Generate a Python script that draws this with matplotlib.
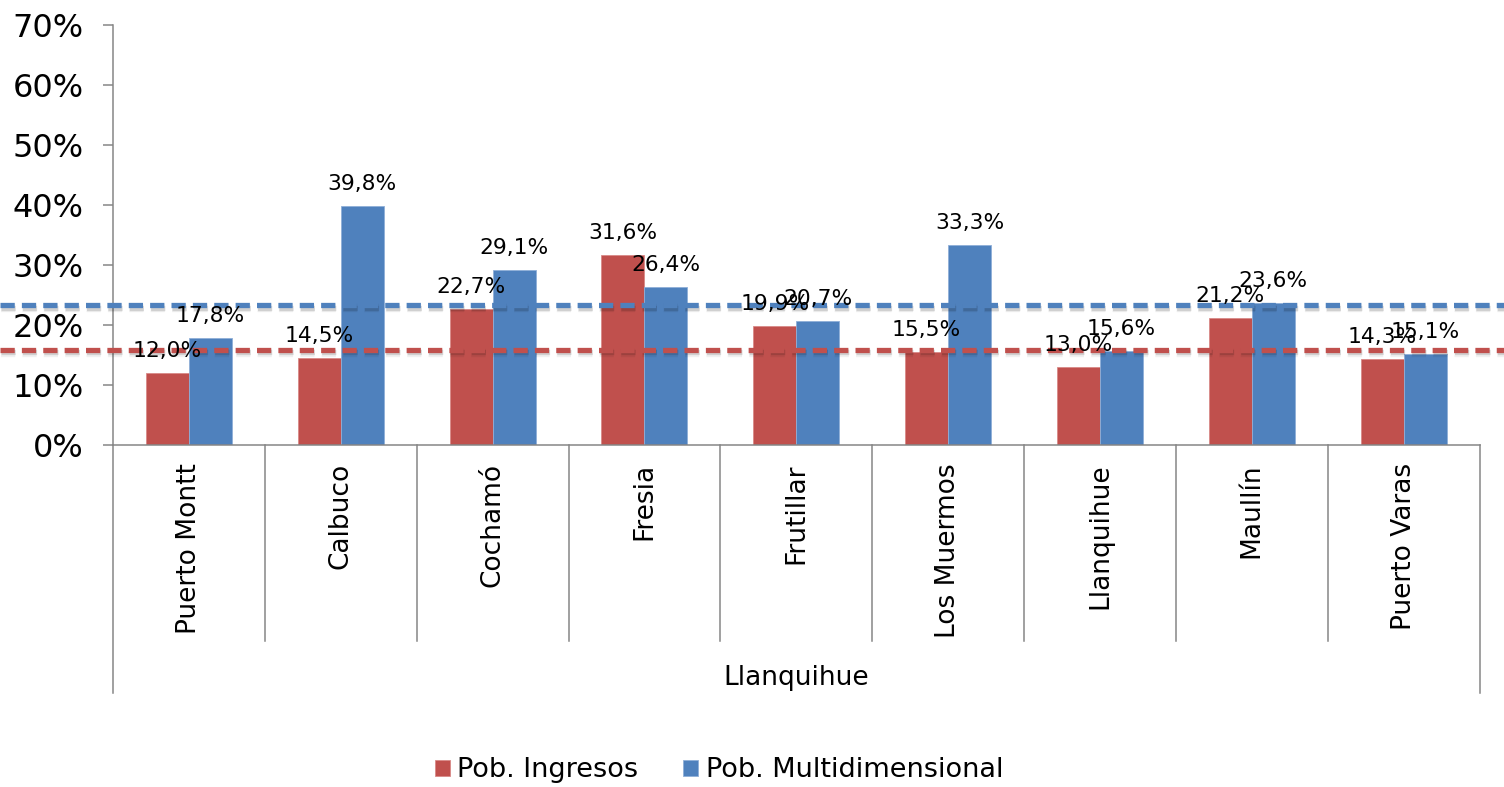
import matplotlib
matplotlib.use("Agg")
import matplotlib.pyplot as plt
import matplotlib.patheffects as pe
import matplotlib.transforms as mtransforms
import numpy as np

comunas = ['Puerto Montt', 'Calbuco', 'Cochamó', 'Fresia', 'Frutillar',
           'Los Muermos', 'Llanquihue', 'Maullín', 'Puerto Varas']
pob_ingresos = [12.0, 14.5, 22.7, 31.6, 19.9, 15.5, 13.0, 21.2, 14.3]
pob_multidim = [17.8, 39.8, 29.1, 26.4, 20.7, 33.3, 15.6, 23.6, 15.1]
provincia = 'Llanquihue'
# regional reference levels (dashed lines)
ref_ingresos = 15.9
ref_multidim = 23.3

RED = '#C0504D'
BLUE = '#4F81BD'
GRAY = '#868686'

plt.rcParams['font.family'] = ['DejaVu Sans']

fig = plt.figure(figsize=(15.04, 7.87), dpi=100)
ax = fig.add_axes([0.0751, 0.4346, 0.9087, 0.5336])

x = np.arange(len(comunas))
w = 0.283
b1 = ax.bar(x - w / 2, pob_ingresos, w, color=RED, edgecolor='#D98A88',
            linewidth=0.6, label='Pob. Ingresos', zorder=2)
b2 = ax.bar(x + w / 2, pob_multidim, w, color=BLUE, edgecolor='#8FAFD8',
            linewidth=0.6, label='Pob. Multidimensional', zorder=2)

# value labels
for bars, vals in ((b1, pob_ingresos), (b2, pob_multidim)):
    for r, v in zip(bars, vals):
        ax.annotate(f'{v:.1f}%'.replace('.', ','),
                    (r.get_x() + r.get_width() / 2, v),
                    xytext=(0, 11.5), textcoords='offset points',
                    ha='center', va='baseline', fontsize=15.7, color='black',
                    zorder=5)

# reference lines spanning the full figure width, with a soft shadow
tr = mtransforms.blended_transform_factory(fig.transFigure, ax.transData)
shadow = [pe.SimpleLineShadow(offset=(0.5, -2.2), shadow_color='black',
                              alpha=0.06, linewidth=6),
          pe.SimpleLineShadow(offset=(0.5, -2.0), shadow_color='black',
                              alpha=0.13, linewidth=3.8),
          pe.Normal()]
for y, c in ((ref_multidim, BLUE), (ref_ingresos, RED)):
    ax.plot([0, 1], [y, y], transform=tr, clip_on=False, color=c,
            linewidth=3.8, dashes=(2.7, 1.35), zorder=4, path_effects=shadow)

ax.set_xlim(-0.5, len(comunas) - 0.5)
ax.set_ylim(0, 70)
ax.set_yticks(np.arange(0, 71, 10))
ax.set_yticklabels([f'{t}%' for t in range(0, 71, 10)], fontsize=23)
ax.tick_params(axis='y', length=7.2, width=1.1, color=GRAY, pad=14)

ax.set_xticks(x)
ax.set_xticklabels(comunas, rotation=90, fontsize=19)
ax.tick_params(axis='x', length=0, pad=13)

for s in ('top', 'right'):
    ax.spines[s].set_visible(False)
for s in ('left', 'bottom'):
    ax.spines[s].set_color(GRAY)
    ax.spines[s].set_linewidth(1.1)

# category separators below the axis
trx = mtransforms.blended_transform_factory(ax.transData, ax.transAxes)
for i in range(len(comunas) + 1):
    edge = i - 0.5
    low = -0.59 if i in (0, len(comunas)) else -0.467
    ax.plot([edge, edge], [0, low], transform=trx, clip_on=False,
            color=GRAY, linewidth=1.1)

ax.text(0.5, -0.555, provincia, transform=ax.transAxes, ha='center',
        va='center', fontsize=19)

fig.legend(handles=[b1, b2], loc='center', bbox_to_anchor=(0.478, 0.021),
           ncol=2, frameon=False, fontsize=19.5, handlelength=0.55,
           handleheight=0.55, handletextpad=0.28, columnspacing=1.65,
           borderaxespad=0, borderpad=0)

fig.savefig('out.png', dpi=100)
